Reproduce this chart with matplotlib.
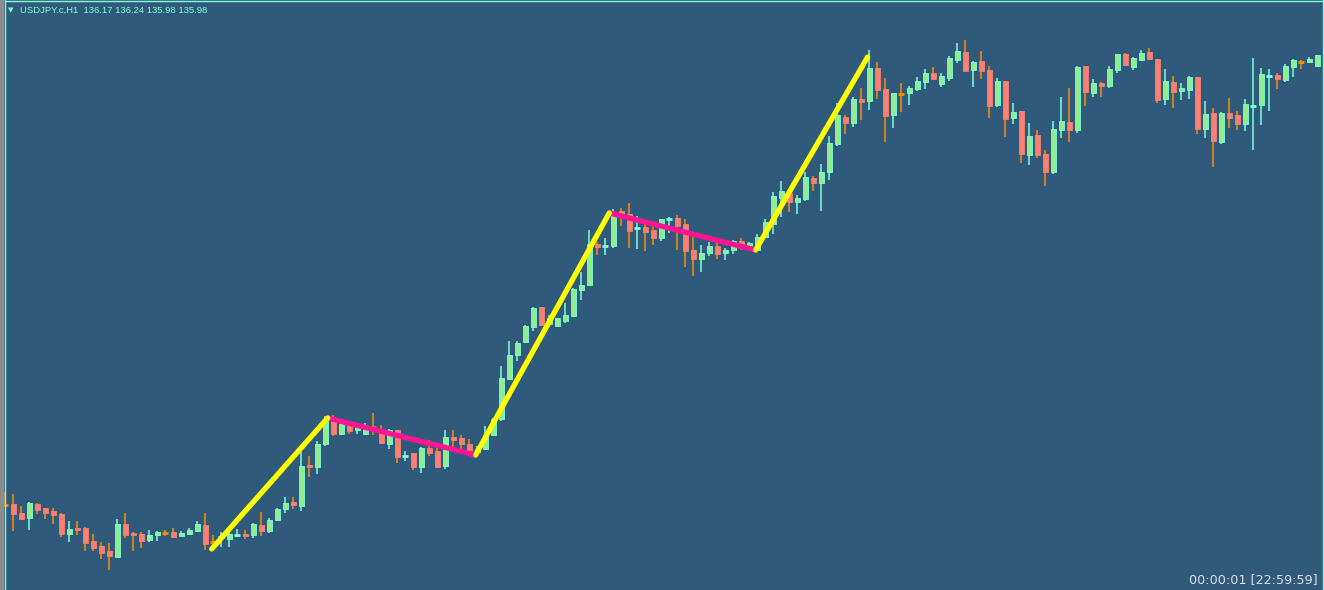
import matplotlib
matplotlib.use("Agg")
import matplotlib.pyplot as plt
from matplotlib.lines import Line2D
import numpy as np

# USDJPY.c H1 candles
opens = [131.51, 131.51, 131.42, 131.37, 131.51, 131.47, 131.44, 131.41, 131.21, 131.27,
         131.27, 131.14, 131.09, 131.04, 130.98, 131.31, 131.22, 131.21, 131.15, 131.20,
         131.23, 131.23, 131.19, 131.21, 131.24, 131.30, 131.14, 131.18, 131.16, 131.20,
         131.21, 131.20, 131.30, 131.24, 131.35, 131.46, 131.53, 131.49, 131.90, 131.88,
         132.11, 132.35, 132.21, 132.30, 132.25, 132.21, 132.29, 132.23, 132.11, 132.25,
         131.98, 132.02, 131.88, 132.07, 132.04, 131.89, 132.18, 132.17, 132.11, 132.03,
         132.06, 132.20, 132.36, 132.76, 133.00, 133.13, 133.28, 133.48, 133.31, 133.29,
         133.34, 133.39, 133.65, 133.70, 134.11, 134.09, 134.09, 134.44, 134.41, 134.27,
         134.28, 134.25, 134.17, 134.36, 134.37, 134.31, 134.05, 133.96, 134.02, 134.09,
         134.02, 134.05, 134.14, 134.07, 134.05, 134.18, 134.31, 134.57, 134.62, 134.53,
         134.56, 134.77, 134.72, 134.83, 135.11, 135.38, 135.32, 135.56, 135.54, 135.87,
         135.66, 135.40, 135.62, 135.62, 135.66, 135.73, 135.82, 135.71, 135.77, 135.95,
         136.03, 135.85, 135.94, 135.85, 135.50, 135.74, 135.37, 135.44, 135.00, 135.20,
         135.01, 134.83, 135.25, 135.33, 135.25, 135.89, 135.62, 135.72, 135.69, 135.85,
         136.01, 135.88, 135.95, 136.03, 135.96, 135.56, 135.73, 135.64, 135.65, 135.78,
         135.26, 135.42, 135.13, 135.42, 135.40, 135.31, 135.49, 135.50, 135.79, 135.80,
         135.75, 135.88, 135.94, 135.93, 135.89]
highs = [131.63, 131.61, 131.49, 131.53, 131.52, 131.47, 131.47, 131.42, 131.34, 131.34,
         131.28, 131.21, 131.13, 131.12, 131.36, 131.42, 131.23, 131.23, 131.25, 131.24,
         131.25, 131.27, 131.24, 131.27, 131.34, 131.42, 131.20, 131.23, 131.24, 131.26,
         131.25, 131.32, 131.43, 131.37, 131.47, 131.58, 131.58, 132.03, 131.99, 132.14,
         132.39, 132.40, 132.33, 132.33, 132.32, 132.32, 132.42, 132.30, 132.26, 132.25,
         132.04, 132.02, 132.08, 132.15, 132.07, 132.25, 132.25, 132.20, 132.16, 132.09,
         132.29, 132.37, 132.89, 133.14, 133.14, 133.30, 133.48, 133.48, 133.40, 133.37,
         133.52, 133.67, 133.83, 134.25, 134.13, 134.17, 134.46, 134.47, 134.52, 134.39,
         134.31, 134.30, 134.36, 134.38, 134.40, 134.36, 134.18, 134.10, 134.13, 134.17,
         134.07, 134.15, 134.17, 134.13, 134.21, 134.36, 134.63, 134.74, 134.63, 134.60,
         134.83, 134.79, 134.91, 135.19, 135.52, 135.40, 135.58, 135.67, 136.05, 135.93,
         135.77, 135.62, 135.72, 135.69, 135.78, 135.86, 135.88, 135.82, 135.99, 136.12,
         136.15, 135.94, 136.04, 135.89, 135.77, 135.74, 135.52, 135.44, 135.32, 135.25,
         135.05, 135.34, 135.58, 135.67, 135.89, 135.89, 135.76, 135.73, 135.89, 136.01,
         136.02, 135.98, 136.05, 136.07, 135.96, 135.86, 135.79, 135.72, 135.79, 135.78,
         135.54, 135.47, 135.43, 135.57, 135.44, 135.56, 135.97, 135.87, 135.86, 135.82,
         135.91, 135.96, 135.95, 135.98, 136.00]
lows = [131.48, 131.24, 131.36, 131.25, 131.41, 131.36, 131.31, 131.18, 131.13, 131.20,
        131.04, 131.04, 130.96, 130.85, 130.98, 131.17, 131.04, 131.07, 131.13, 131.14,
        131.19, 131.18, 131.19, 131.20, 131.23, 131.05, 131.09, 131.08, 131.08, 131.18,
        131.16, 131.17, 131.19, 131.22, 131.34, 131.42, 131.46, 131.44, 131.78, 131.81,
        132.09, 132.19, 132.20, 132.21, 132.21, 132.20, 132.20, 132.11, 132.06, 131.92,
        131.94, 131.85, 131.82, 131.99, 131.87, 131.86, 132.08, 132.06, 132.01, 132.00,
        132.05, 132.19, 132.34, 132.76, 132.94, 133.13, 133.24, 133.29, 133.28, 133.29,
        133.32, 133.38, 133.55, 133.70, 134.00, 134.00, 134.07, 134.29, 134.07, 134.06,
        134.04, 134.10, 134.14, 134.22, 134.05, 133.88, 133.79, 133.83, 133.99, 133.96,
        133.95, 134.01, 134.05, 134.05, 134.04, 134.18, 134.21, 134.38, 134.43, 134.41,
        134.54, 134.64, 134.44, 134.75, 135.09, 135.21, 135.28, 135.35, 135.45, 135.56,
        135.13, 135.27, 135.43, 135.50, 135.64, 135.66, 135.76, 135.68, 135.74, 135.92,
        135.84, 135.68, 135.76, 135.37, 135.48, 135.18, 135.31, 134.92, 134.90, 134.97,
        134.69, 134.81, 135.17, 135.13, 135.22, 135.49, 135.58, 135.58, 135.67, 135.82,
        135.89, 135.85, 135.94, 135.96, 135.52, 135.50, 135.47, 135.55, 135.56, 135.21,
        135.17, 134.88, 135.11, 135.27, 135.25, 135.24, 135.05, 135.30, 135.44, 135.66,
        135.73, 135.78, 135.86, 135.92, 135.89]
closes = [131.50, 131.41, 131.36, 131.52, 131.45, 131.42, 131.40, 131.21, 131.26, 131.25,
          131.12, 131.07, 131.02, 130.99, 131.31, 131.20, 131.20, 131.14, 131.20, 131.23,
          131.21, 131.18, 131.22, 131.25, 131.31, 131.11, 131.12, 131.19, 131.21, 131.21,
          131.19, 131.31, 131.24, 131.35, 131.46, 131.52, 131.50, 131.89, 131.88, 132.11,
          132.36, 132.21, 132.31, 132.24, 132.28, 132.27, 132.28, 132.12, 132.25, 131.98,
          131.99, 131.88, 132.07, 132.02, 131.88, 132.18, 132.15, 132.11, 132.04, 132.06,
          132.20, 132.36, 132.77, 133.00, 133.12, 133.29, 133.47, 133.30, 133.37, 133.37,
          133.40, 133.66, 133.70, 134.11, 134.08, 134.10, 134.42, 134.41, 134.24, 134.28,
          134.23, 134.17, 134.36, 134.37, 134.29, 134.04, 133.96, 134.02, 134.09, 134.01,
          134.05, 134.14, 134.09, 134.12, 134.18, 134.33, 134.59, 134.64, 134.53, 134.57,
          134.78, 134.72, 134.83, 135.12, 135.40, 135.32, 135.56, 135.53, 135.87, 135.65,
          135.39, 135.62, 135.61, 135.67, 135.74, 135.82, 135.76, 135.79, 135.97, 136.04,
          135.84, 135.93, 135.84, 135.49, 135.74, 135.36, 135.43, 135.01, 135.19, 135.00,
          134.83, 135.26, 135.34, 135.25, 135.88, 135.63, 135.72, 135.69, 135.86, 136.01,
          135.90, 135.97, 136.02, 135.96, 135.55, 135.74, 135.63, 135.67, 135.78, 135.26,
          135.41, 135.14, 135.42, 135.37, 135.31, 135.51, 135.50, 135.81, 135.80, 135.76,
          135.89, 135.95, 135.93, 135.96, 136.00]

# drawn trend legs: (bar index, price) pairs
up_legs = [((25.8, 131.06), (40.3, 132.37)),
           ((58.8, 132.00), (75.5, 134.42)),
           ((93.8, 134.05), (107.8, 135.98))]
down_legs = [((40.3, 132.37), (58.8, 132.00)),
             ((75.5, 134.42), (93.8, 134.05))]

bg = "#305a7b"
bull_body, bull_wick = "#90ee90", "#7fffd4"
bear_body, bear_wick = "#fa8072", "#ff8c00"

o = np.array(opens); h = np.array(highs); l = np.array(lows); c = np.array(closes)
x = np.arange(len(o))
up = c >= o
cross = np.abs(c - o) < 0.02

fig = plt.figure(figsize=(13.24, 5.90), dpi=100)
fig.patch.set_facecolor(bg)
ax = fig.add_axes([0, 0, 1, 1])
ax.set_facecolor(bg)

wick_col = np.where(up, bull_wick, bear_wick)
ax.vlines(x, l, h, colors=wick_col, linewidth=1.1, zorder=2)

body = ~cross
bx = x[body]
bot = np.minimum(o, c)[body]
hgt = np.abs(c - o)[body]
ax.bar(bx, hgt, bottom=bot, width=0.56,
       color=np.where(up[body], bull_body, bear_body),
       edgecolor=np.where(up[body], bull_wick, bear_body),
       linewidth=0.6, zorder=3)
ax.hlines((o[cross] + c[cross]) / 2, x[cross] - 0.35, x[cross] + 0.35,
          colors=wick_col[cross], linewidth=2.0, zorder=3)

for (a, b) in up_legs:
    ax.plot([a[0], b[0]], [a[1], b[1]], color="#ffff00", linewidth=3.8,
            solid_capstyle="round", zorder=5)
for (a, b) in down_legs:
    ax.plot([a[0], b[0]], [a[1], b[1]], color="#ff1493", linewidth=3.8,
            solid_capstyle="round", zorder=4)

ax.set_xlim(-0.66, 164.84)
ax.set_ylim(130.65, 136.55)
ax.axis("off")

# window frame
fig.patches.append(plt.Rectangle((0, 0), 3 / 1324, 1, transform=fig.transFigure,
                                 color="#8c8c8c", zorder=10))
fig.add_artist(Line2D([4.5 / 1324] * 2, [0, 1], color="#7fffd4", linewidth=1.0,
                      transform=fig.transFigure))
fig.add_artist(Line2D([4.5 / 1324, 1], [1 - 0.8 / 590] * 2, color="#7fffd4",
                      linewidth=1.0, transform=fig.transFigure))
fig.add_artist(Line2D([1 - 1.5 / 1324] * 2, [0, 1], color="#7fffd4", linewidth=1.0,
                      transform=fig.transFigure))

fig.text(8 / 1324, 1 - 10 / 590, "\u25bc", color="#7fffd4", fontsize=5,
         va="center", ha="left", family="DejaVu Sans")
fig.text(20 / 1324, 1 - 10 / 590, "USDJPY.c,H1  136.17 136.24 135.98 135.98",
         color="#7fffd4", fontsize=6.8, va="center", ha="left",
         family="Liberation Sans")
fig.text(1318 / 1324, 1 - 580 / 590, "00:00:01 [22:59:59]", color="#e0e0e8",
         fontsize=9.2, va="center", ha="right", family="DejaVu Sans")

fig.savefig("out.png", dpi=100, facecolor=bg)
